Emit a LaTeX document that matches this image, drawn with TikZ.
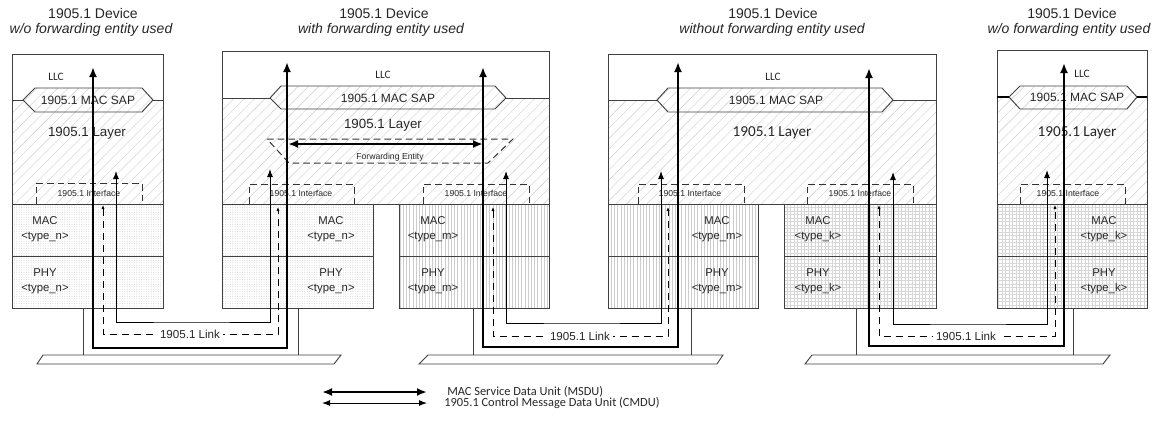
\documentclass[tikz,border=0pt]{standalone}
\usepackage{fontspec}
\setmainfont{Liberation Sans}
\newfontfamily\calib{Carlito}
\usetikzlibrary{arrows.meta,patterns.meta}
\begin{document}
\begin{tikzpicture}[x=0.75pt,y=-0.75pt,
  boxline/.style={draw=black!75,line width=0.7pt},
  hatchfill/.style={pattern={Lines[angle=45,distance=5.5pt,line width=0.3pt]},pattern color=black!20},
  dotfill/.style={pattern={Dots[distance=1.8pt,radius=0.28pt]},pattern color=black!28},
  vfill/.style={pattern={Lines[angle=90,distance=2.4pt,line width=0.25pt]},pattern color=black!20},
  gridfill/.style={pattern={Hatch[angle=0,distance=2.6pt,line width=0.25pt]},pattern color=black!16},
  ifbox/.style={draw=black!80,line width=0.75pt,dash pattern=on 5pt off 3pt},
  msdu/.style={draw=black,line width=1.6pt,{Latex[length=7.5pt,width=6pt]}-{Latex[length=7.5pt,width=6pt]}},
  cmdu/.style={draw=black,line width=0.75pt,{Latex[length=6pt,width=4.5pt]}-{Latex[length=6pt,width=4.5pt]}},
  ctl/.style={draw=black,line width=0.75pt,dash pattern=on 5.5pt off 3.5pt,{Latex[length=3pt,width=2.4pt]}-{Latex[length=3pt,width=2.4pt]}},
  stem/.style={draw=black!75,line width=0.7pt},
  bus/.style={draw=black!75,line width=0.7pt,fill=white},
  ttl/.style={text=black!85,font=\fontsize{10.5}{12}\selectfont},
  ttli/.style={text=black!85,font=\fontsize{10.5}{12}\selectfont\itshape},
  llc/.style={text=black!85,font=\calib\fontsize{8.5}{10}\selectfont},
  sap/.style={text=black!85,font=\fontsize{9}{11}\selectfont},
  lay/.style={text=black!85,font=\fontsize{10}{12}\selectfont},
  layc/.style={text=black!85,font=\calib\fontsize{11.4}{13}\selectfont},
  iflbl/.style={text=black!85,font=\fontsize{6.5}{8}\selectfont},
  stack/.style={text=black!85,align=center,font=\fontsize{8.5}{11.25}\selectfont},
  lnk/.style={text=black!85,fill=white,inner sep=2pt,font=\fontsize{8.7}{10}\selectfont},
  leg/.style={text=black!85,anchor=west,inner sep=0pt,font=\calib\fontsize{9.3}{11}\selectfont}
]
\useasboundingbox (0,0) rectangle (1157,426);

% ================= Device 1 =================
\fill[hatchfill] (12,100) rectangle (163,204);
\draw[boxline] (12,54) rectangle (163,204);
\fill[white] (23,100) -- (35,88) -- (142,88) -- (153,100) -- (142,112) -- (35,112) -- cycle;
\draw[boxline,hatchfill] (23,100) -- (35,88) -- (142,88) -- (153,100) -- (142,112) -- (35,112) -- cycle;
\draw[boxline] (12,100) -- (23,100) (153,100) -- (163,100);
\draw[ifbox] (36,204) -- (36,183) -- (142,183) -- (142,204);
\draw[boxline,dotfill] (12,204) rectangle (163,256);
\draw[boxline,dotfill] (12,256) rectangle (163,308);

% ================= Device 2 =================
\fill[hatchfill] (222,98) rectangle (549,204);
\draw[boxline] (222,51) rectangle (549,204);
\fill[white] (270,98) -- (281,86) -- (495,86) -- (506,98) -- (495,109) -- (281,109) -- cycle;
\draw[boxline,hatchfill] (270,98) -- (281,86) -- (495,86) -- (506,98) -- (495,109) -- (281,109) -- cycle;
\draw[boxline] (222,98) -- (270,98) (506,98) -- (549,98);
\draw[ifbox] (267,139) -- (513,139) -- (488,163) -- (289,163) -- cycle;
\draw[ifbox] (249,204) -- (249,184) -- (354,184) -- (354,204);
\draw[ifbox] (423,204) -- (423,184) -- (529,184) -- (529,204);
\draw[boxline,dotfill] (222,204) rectangle (373,256);
\draw[boxline,dotfill] (222,256) rectangle (373,308);
\draw[boxline,vfill] (399,204) rectangle (549,256);
\draw[boxline,vfill] (399,256) rectangle (549,308);

% ================= Device 3 =================
\fill[hatchfill] (608,100) rectangle (936,204);
\draw[boxline] (608,54) rectangle (936,204);
\fill[white] (657,100) -- (668,88) -- (882,88) -- (893,100) -- (882,112) -- (668,112) -- cycle;
\draw[boxline,hatchfill] (657,100) -- (668,88) -- (882,88) -- (893,100) -- (882,112) -- (668,112) -- cycle;
\draw[boxline] (608,100) -- (657,100) (893,100) -- (936,100);
\draw[ifbox] (638,204) -- (638,184) -- (744,184) -- (744,204);
\draw[ifbox] (807,204) -- (807,184) -- (913,184) -- (913,204);
\draw[boxline,vfill] (608,204) rectangle (758,256);
\draw[boxline,vfill] (608,256) rectangle (758,308);
\draw[boxline,gridfill] (784,204) rectangle (936,256);
\draw[boxline,gridfill] (784,256) rectangle (936,308);

% ================= Device 4 =================
\fill[hatchfill] (997,97) rectangle (1147,204);
\draw[boxline] (997,50) rectangle (1147,204);
\fill[white] (1009,97) -- (1020,86) -- (1127,86) -- (1137,97) -- (1127,109) -- (1020,109) -- cycle;
\draw[boxline,hatchfill] (1009,97) -- (1020,86) -- (1127,86) -- (1137,97) -- (1127,109) -- (1020,109) -- cycle;
\draw[draw=black,line width=1.3pt] (997,97) -- (1009,97) (1137,97) -- (1147,97);
\draw[ifbox] (1020,204) -- (1020,184) -- (1125,184) -- (1125,204);
\draw[boxline,gridfill] (997,204) rectangle (1147,256);
\draw[boxline,gridfill] (997,256) rectangle (1147,308);

% ================= buses and stems =================
\coordinate (s1t) at (83,308);   \coordinate (s1b) at (83,355);
\coordinate (s2t) at (298,308);  \coordinate (s2b) at (298,355);
\coordinate (s3t) at (473,308);  \coordinate (s3b) at (473,355);
\coordinate (s4t) at (691,308);  \coordinate (s4b) at (691,355);
\coordinate (s5t) at (856,308);  \coordinate (s5b) at (856,355);
\coordinate (s6t) at (1073,308); \coordinate (s6b) at (1073,355);
\draw[stem] (s1t) -- (s1b);
\draw[stem] (s2t) -- (s2b);
\draw[stem] (s3t) -- (s3b);
\draw[stem] (s4t) -- (s4b);
\draw[stem] (s5t) -- (s5b);
\draw[stem] (s6t) -- (s6b);
\draw[bus] (37,364) -- (43,355) -- (341,355) -- (334,364) -- cycle;
\draw[bus] (419,364) -- (428,355) -- (723,355) -- (717,364) -- cycle;
\draw[bus] (805,364) -- (812,355) -- (1110,355) -- (1103,364) -- cycle;

% ================= texts =================
\node[ttl]  (t1a) at (93,13) {1905.1 Device};
\node[ttli] (t1b) at (91,30) {w/o forwarding entity used};
\node[ttl]  (t2a) at (384,13) {1905.1 Device};
\node[ttli] (t2b) at (381,30) {with forwarding entity used};
\node[ttl]  (t3a) at (773,13) {1905.1 Device};
\node[ttli] (t3b) at (772,30) {without forwarding entity used};
\node[ttl]  (t4a) at (1072,13) {1905.1 Device};
\node[ttli] (t4b) at (1069,30) {w/o forwarding entity used};

\node[llc] (llc1) at (56,77) {LLC};
\node[llc] (llc2) at (383,75) {LLC};
\node[llc] (llc3) at (773,77) {LLC};
\node[llc] (llc4) at (1082,74) {LLC};

\node[sap] (sap1) at (88,100) {1905.1 MAC SAP};
\node[sap] (sap2) at (388,98) {1905.1 MAC SAP};
\node[sap] (sap3) at (776,100) {1905.1 MAC SAP};
\node[sap] (sap4) at (1077,97) {1905.1 MAC SAP};

\node[lay]  (lay1) at (87,133) {1905.1 Layer};
\node[lay]  (lay2) at (383,125) {1905.1 Layer};
\node[layc] (lay3) at (772,133) {1905.1 Layer};
\node[layc] (lay4) at (1077,133) {1905.1 Layer};

\node[iflbl] (fe) at (390,157) {Forwarding Entity};
\node[iflbl] (if1) at (89,193) {1905.1 Interface};
\node[iflbl] (if2) at (301,193) {1905.1 Interface};
\node[iflbl] (if3) at (476,193) {1905.1 Interface};
\node[iflbl] (if4) at (690,193) {1905.1 Interface};
\node[iflbl] (if5) at (860,193) {1905.1 Interface};
\node[iflbl] (if6) at (1068,193) {1905.1 Interface};

\node[stack] (mac1) at (45,229) {MAC\\<type\_n>};
\node[stack] (phy1) at (45,281) {PHY\\<type\_n>};
\node[stack] (mac2) at (331,229) {MAC\\<type\_n>};
\node[stack] (phy2) at (331,281) {PHY\\<type\_n>};
\node[stack] (mac3) at (433,229) {MAC\\<type\_m>};
\node[stack] (phy3) at (433,281) {PHY\\<type\_m>};
\node[stack] (mac4) at (717,229) {MAC\\<type\_m>};
\node[stack] (phy4) at (717,281) {PHY\\<type\_m>};
\node[stack] (mac5) at (818,229) {MAC\\<type\_k>};
\node[stack] (phy5) at (818,281) {PHY\\<type\_k>};
\node[stack] (mac6) at (1104,229) {MAC\\<type\_k>};
\node[stack] (phy6) at (1104,281) {PHY\\<type\_k>};

% ================= arrow end points =================
% device 1
\coordinate (d1k) at (93,67);   \coordinate (d1c) at (116,171);  \coordinate (d1d) at (103,205);
% device 2 left / right
\coordinate (d2k) at (287,62);  \coordinate (d2c) at (270,169);  \coordinate (d2d) at (278,207);
\coordinate (d2K) at (483,67);  \coordinate (d2C) at (506,171);  \coordinate (d2D) at (493,207);
% device 3 left / right
\coordinate (d3k) at (678,62);  \coordinate (d3c) at (661,171);  \coordinate (d3d) at (668,207);
\coordinate (d3K) at (869,68);  \coordinate (d3C) at (893,172);  \coordinate (d3D) at (879,205);
% device 4
\coordinate (d4k) at (1064,63); \coordinate (d4c) at (1047,170); \coordinate (d4d) at (1055,205);
% link middles
\coordinate (l1k) at (190,348); \coordinate (l1c) at (190,322);  \coordinate (l1d) at (190,334);
\coordinate (l2k) at (580,347); \coordinate (l2c) at (580,323);  \coordinate (l2d) at (580,336);
\coordinate (l3k) at (966,346); \coordinate (l3c) at (966,324);  \coordinate (l3d) at (966,336);

% ================= connectors =================
\draw[cmdu] (d1c) |- (l1c) -| (d2c);
\draw[ctl]  (d1d) |- (l1d) -| (d2d);
\draw[msdu] (d1k) |- (l1k) -| (d2k);

\draw[cmdu] (d2C) |- (l2c) -| (d3c);
\draw[ctl]  (d2D) |- (l2d) -| (d3d);
\draw[msdu] (d2K) |- (l2k) -| (d3k);

\draw[cmdu] (d3C) |- (l3c) -| (d4c);
\draw[ctl]  (d3D) |- (l3d) -| (d4d);
\draw[msdu] (d3K) |- (l3k) -| (d4k);

% forwarding entity arrow
\coordinate (fel) at (288,144); \coordinate (fer) at (483,144);
\draw[msdu] (fel) -- (fer);

\node[lnk] (lk1) at (l1d) {1905.1 Link};
\node[lnk] (lk2) at (l2d) {1905.1 Link};
\node[lnk] (lk3) at (l3d) {1905.1 Link};

% ================= legend =================
\coordinate (la1) at (322,392); \coordinate (la2) at (427,392);
\coordinate (lb1) at (322,403); \coordinate (lb2) at (427,403);
\draw[msdu] (la1) -- (la2);
\draw[cmdu] (lb1) -- (lb2);
\node[leg] (lega) at (447,392) {MAC Service Data Unit (MSDU)};
\node[leg] (legb) at (444,403) {1905.1 Control Message Data Unit (CMDU)};
\end{tikzpicture}
\end{document}
